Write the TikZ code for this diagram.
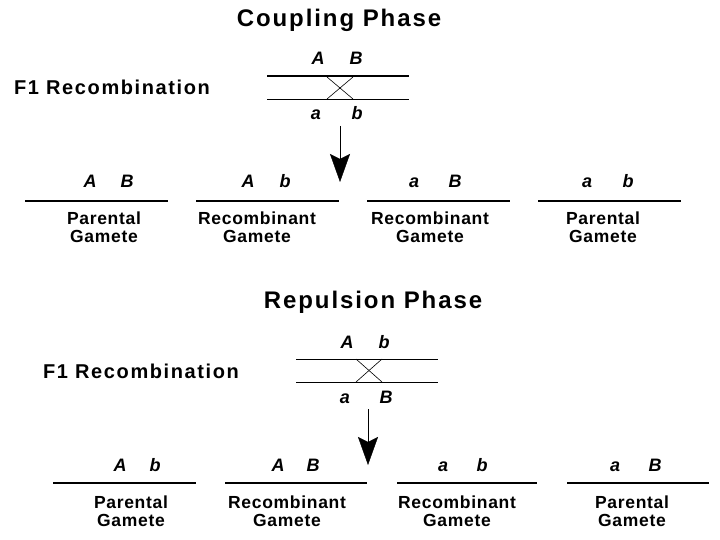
\documentclass[tikz,border=0pt]{standalone}
\usepackage{fontspec}
\usepackage{tikz}
\usetikzlibrary{arrows.meta}
\setmainfont{Liberation Sans}
\newfontfamily\titlefont[LetterSpace=8]{Liberation Sans Bold}
\newfontfamily\headfont[LetterSpace=8]{Liberation Sans Bold}
\newfontfamily\gamfont[LetterSpace=4]{Liberation Sans Bold}
\newfontfamily\allelefont{Liberation Sans Bold Italic}

\begin{document}
\begin{tikzpicture}[x=1pt, y=-1pt, >={Stealth[length=28pt, width=20pt, inset=5pt]},
	every node/.style={inner sep=0pt, anchor=base},
	phase/.style={font=\titlefont\fontsize{24}{28}\selectfont},
	f1label/.style={font=\headfont\fontsize{20}{24}\selectfont},
	allele/.style={font=\allelefont\fontsize{18}{21}\selectfont},
	gamlabel/.style={font=\gamfont\fontsize{17.5}{20}\selectfont},
	chrom/.style={line width=1.3pt},
	xover/.style={line width=0.6pt}]
			\useasboundingbox (0,0) rectangle (720,540);
			% Coupling phase
			\node[phase] (cptitle) at (339,27) {Coupling Phase};
			\node[f1label] (cpf1) at (112,95) {F1 Recombination};
			\node[allele] (cpA) at (318,65) {A};
			\node[allele] (cpB) at (356,65) {B};
			\node[allele] (cpa) at (316,120) {a};
			\node[allele] (cpb) at (357,120) {b};
			\coordinate (cpul) at (267,76);  \coordinate (cpur) at (409,76);
			\coordinate (cpll) at (267,99);  \coordinate (cplr) at (409,99);
			\draw[chrom] (cpul) -- (cpur);
			\draw[xover] (cpll) -- (cplr);
			\coordinate (cpx1) at (327,77);  \coordinate (cpx2) at (353,99);
			\coordinate (cpx3) at (327,99);  \coordinate (cpx4) at (353,77);
			\draw[xover] (cpx1) -- (cpx2);
			\draw[xover] (cpx3) -- (cpx4);
			\coordinate (cpfrom) at (340,126);
			\coordinate (cpto) at (340,182);
			\draw[->] (cpfrom) -- (cpto);
			% Coupling gametes
			\foreach \i/\xl/\xr/\l/\r/\xa/\xb/\xt/\kind in {1/25/168/A/B/90/127/104/Parental,
				2/196/339/A/b/248/285/257/Recombinant, 3/367/510/a/B/414/455/430/Recombinant,
				4/538/681/a/b/587/628/603/Parental}
			{
				\coordinate (cpg\i l) at (\xl,201);
				\coordinate (cpg\i r) at (\xr,201);
				\draw[chrom] (cpg\i l) -- (cpg\i r);
				\node[allele] (cpg\i a) at (\xa,188) {\l};
				\node[allele] (cpg\i b) at (\xb,188) {\r};
				\node[gamlabel] (cpg\i t) at (\xt,225) {\kind};
				\node[gamlabel] (cpg\i g) at (\xt,242) {Gamete};
			}
			% Repulsion phase
			\node[phase] (rptitle) at (373,308) {Repulsion Phase};
			\node[f1label] (rpf1) at (141,378) {F1 Recombination};
			\node[allele] (rpA) at (347,348) {A};
			\node[allele] (rpb) at (384,348) {b};
			\node[allele] (rpa) at (345,403) {a};
			\node[allele] (rpB) at (386,403) {B};
			\coordinate (rpul) at (296,359);  \coordinate (rpur) at (438,359);
			\coordinate (rpll) at (296,382);  \coordinate (rplr) at (438,382);
			\draw[xover] (rpul) -- (rpur);
			\draw[xover] (rpll) -- (rplr);
			\coordinate (rpx1) at (356,359);  \coordinate (rpx2) at (382,382);
			\coordinate (rpx3) at (356,382);  \coordinate (rpx4) at (382,359);
			\draw[xover] (rpx1) -- (rpx2);
			\draw[xover] (rpx3) -- (rpx4);
			\coordinate (rpfrom) at (368,409);
			\coordinate (rpto) at (368,465);
			\draw[->] (rpfrom) -- (rpto);
			% Repulsion gametes
			\foreach \i/\xl/\xr/\l/\r/\xa/\xb/\xt/\kind in {1/53/196/A/b/120/155/131/Parental,
				2/225/367/A/B/278/313/287/Recombinant, 3/397/537/a/b/443/482/457/Recombinant,
				4/567/709/a/B/615/655/632/Parental}
			{
				\coordinate (rpg\i l) at (\xl,483);
				\coordinate (rpg\i r) at (\xr,483);
				\draw[chrom] (rpg\i l) -- (rpg\i r);
				\node[allele] (rpg\i a) at (\xa,471) {\l};
				\node[allele] (rpg\i b) at (\xb,471) {\r};
				\node[gamlabel] (rpg\i t) at (\xt,508) {\kind};
				\node[gamlabel] (rpg\i g) at (\xt,526) {Gamete};
			}
		\end{tikzpicture}
\end{document}
